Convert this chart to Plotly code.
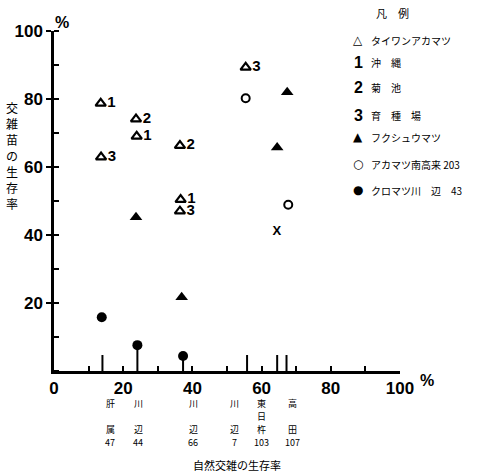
import plotly.graph_objects as go

# ---------------- data ----------------
taiwan_x = [13.5, 23.7, 23.9, 36.4, 13.6, 36.6, 36.4, 55.4]
taiwan_y = [78.7, 74.1, 69.0, 66.3, 62.9, 50.4, 47.0, 89.3]
taiwan_src = ["1", "2", "1", "2", "3", "1", "3", "3"]

fukushu_x = [67.4, 64.5, 23.7, 36.9]
fukushu_y = [82.0, 65.7, 45.2, 21.7]

akamatsu_x = [55.4, 67.7]
akamatsu_y = [80.2, 48.9]

kuromatsu_x = [13.8, 24.1, 37.3]
kuromatsu_y = [15.8, 7.6, 4.4]

cross_x = [64.4]
cross_y = [41.0]

stem_x = [14.0, 24.1, 37.3, 55.8, 64.5, 67.2]
stem_h = [4.7, 7.6, 4.4, 4.7, 4.7, 4.7]

site_top = ["肝", "川", "川", "川", "東", "高"]
site_mid = ["", "", "", "", "日", ""]
site_bot = ["属", "辺", "辺", "辺", "杵", "田"]
site_num = ["47", "44", "66", "7", "103", "107"]
site_label_x = [16.2, 24.3, 40.2, 52.3, 60.1, 68.8]

legend_labels = ["タイワンアカマツ", "沖　縄", "菊　池", "育　種　場",
                 "フクシュウマツ", "アカマツ南高来 203", "クロマツ川　辺　43"]
legend_keys = ["△", "1", "2", "3", "▲", "○", "●"]

x_ticks = [0, 20, 40, 60, 80, 100]
y_ticks = [20, 40, 60, 80, 100]

# ---------------- layout helpers ----------------
W, H = 495, 473
L, R, T, B = 54, 95, 31, 102
PW, PH = W - L - R, H - T - B


def px(x):
    return (x - L) / PW


def py(y):
    return (H - B - y) / PH


JP = "Noto Sans CJK JP"
BOLD = "Liberation Sans"

fig = go.Figure()

# stems on the x axis
sx, sy = [], []
for x, h in zip(stem_x, stem_h):
    sx += [x, x, None]
    sy += [0, h, None]
fig.add_trace(go.Scatter(x=sx, y=sy, mode="lines",
                         line=dict(color="black", width=2), hoverinfo="skip"))

fig.add_trace(go.Scatter(
    x=taiwan_x, y=taiwan_y, mode="markers+text", text=taiwan_src,
    textposition="middle right",
    textfont=dict(family=BOLD, size=15, color="black", weight="bold"),
    marker=dict(symbol="triangle-up-open", size=9, color="black",
                line=dict(width=2.2, color="black")),
    cliponaxis=False))

fig.add_trace(go.Scatter(
    x=fukushu_x, y=fukushu_y, mode="markers",
    marker=dict(symbol="triangle-up", size=11, color="black"),
    cliponaxis=False))

fig.add_trace(go.Scatter(
    x=akamatsu_x, y=akamatsu_y, mode="markers",
    marker=dict(symbol="circle-open", size=8, color="black",
                line=dict(width=2, color="black")),
    cliponaxis=False))

fig.add_trace(go.Scatter(
    x=kuromatsu_x, y=kuromatsu_y, mode="markers",
    marker=dict(symbol="circle", size=10, color="black"),
    cliponaxis=False))

fig.add_trace(go.Scatter(
    x=cross_x, y=cross_y, mode="text", text=["X"],
    textfont=dict(family=BOLD, size=13, color="black", weight="bold"),
    cliponaxis=False))

ann = []


def txt(x, y, text, font, xanchor="center", xref="paper"):
    ann.append(dict(x=x, y=y, xref=xref, yref="paper", text=text,
                    showarrow=False, xanchor=xanchor, yanchor="middle",
                    font=font))


sfont = dict(family=JP, size=9, color="black")
# x-axis site labels (four text rows)
for xl, a, b, c, n in zip(site_label_x, site_top, site_mid, site_bot, site_num):
    txt(xl, py(403), a, sfont, xref="x")
    if b:
        txt(xl, py(416), b, sfont, xref="x")
    txt(xl, py(429), c, sfont, xref="x")
    txt(xl, py(442), n, sfont, xref="x")

# axis titles
txt(px(237), py(465), "自然交雑の生存率", dict(family=JP, size=11, color="black"))
for i, ch in enumerate("交雑苗の生存率"):
    txt(px(12), py(107 + 16 * i), ch, dict(family=JP, size=12, color="black"))
txt(px(62), py(22), "%", dict(family=BOLD, size=16, color="black", weight="bold"))
txt(px(427), py(381), "%", dict(family=BOLD, size=16, color="black", weight="bold"))

# legend
txt(px(392), py(13), "凡　例", dict(family=JP, size=11, color="black"))
rows = [40, 62, 87, 115, 137, 164, 190]
for k, lab, r in zip(legend_keys, legend_labels, rows):
    kfont = dict(family=BOLD if k.isdigit() else "DejaVu Sans",
                 size=16 if k.isdigit() else 12, color="black", weight="bold")
    txt(px(358), py(r), k, kfont)
    txt(px(369), py(r), lab, dict(family=JP, size=10, color="black"), xanchor="left")

fig.update_layout(
    width=W, height=H,
    margin=dict(l=L, r=R, t=T, b=B),
    paper_bgcolor="white", plot_bgcolor="white",
    showlegend=False,
    annotations=ann,
    xaxis=dict(range=[0, 100], tickvals=x_ticks, ticks="inside", ticklen=5,
               tickwidth=2, tickcolor="black",
               minor=dict(dtick=10, ticks="inside", ticklen=5, tickwidth=2,
                          tickcolor="black"),
               showline=True, linecolor="black", linewidth=2.5,
               showgrid=False, zeroline=False,
               tickfont=dict(family=BOLD, size=17, color="black", weight="bold")),
    yaxis=dict(range=[0, 100], tickvals=y_ticks, ticks="outside", ticklen=5,
               tickwidth=2, tickcolor="black",
               minor=dict(dtick=10, ticks="inside", ticklen=5, tickwidth=2,
                          tickcolor="black"),
               showline=True, linecolor="black", linewidth=2.5,
               showgrid=False, zeroline=False,
               tickfont=dict(family=BOLD, size=17, color="black", weight="bold")),
)

fig.write_html("out.html", config={"displayModeBar": False},
               post_script="document.body.style.margin='0';document.body.style.padding='0';")
